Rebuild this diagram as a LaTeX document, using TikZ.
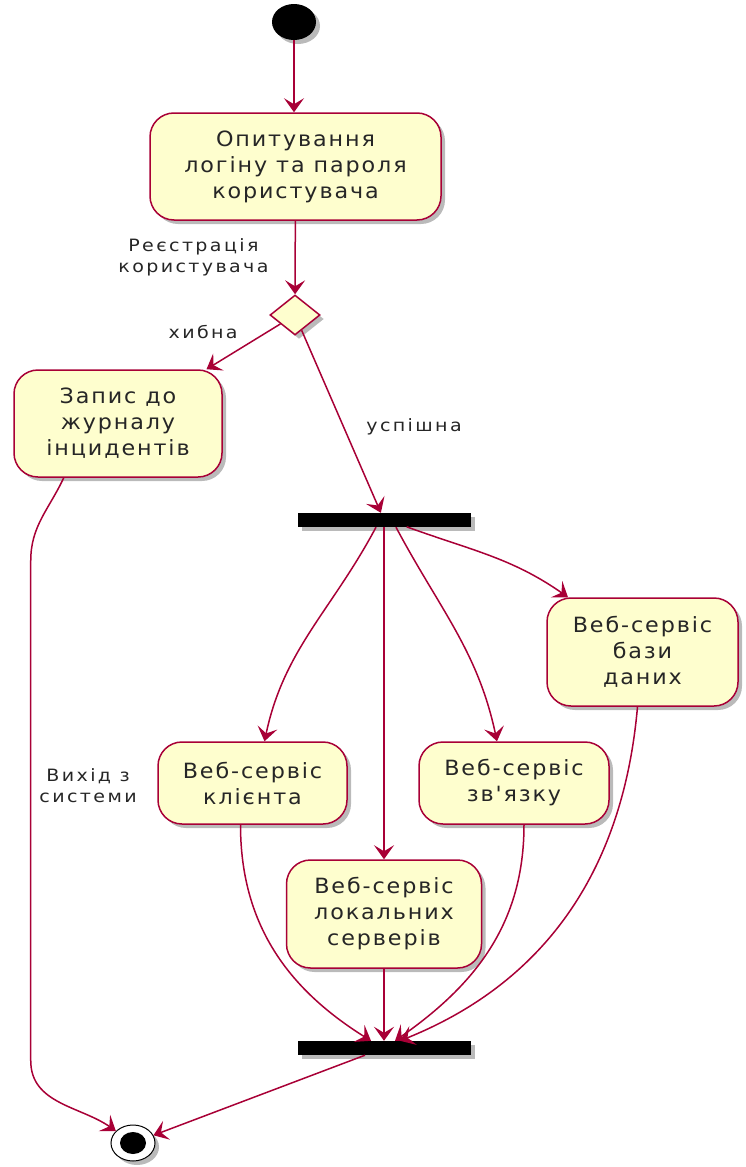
\documentclass[tikz,border=0pt]{standalone}
\usepackage{fontspec}
\setmainfont{DejaVu Sans}
\newfontfamily\actfont{DejaVu Sans}[FakeStretch=1.06, LetterSpace=9]
\newfontfamily\lblfont{DejaVu Sans}[FakeStretch=1.12, LetterSpace=14]
\usetikzlibrary{arrows.meta,shapes.geometric,shadows,positioning}
\definecolor{umlred}{HTML}{A80036}
\definecolor{umlfill}{HTML}{FEFECE}
\tikzset{
  umlshadow/.style={drop shadow={shadow xshift=4pt, shadow yshift=-4pt, opacity=0.45, fill=black!60}},
  activity/.style={draw=umlred, fill=umlfill, line width=1.5pt, rounded corners=24pt,
    align=center, inner sep=0pt, text=black!85, font=\actfont\fontsize{21}{26}\selectfont, umlshadow},
  forkbar/.style={fill=black, minimum width=173pt, minimum height=14pt, inner sep=0pt, umlshadow},
  flow/.style={draw=umlred, line width=1.5pt, -{Stealth[length=14pt,width=20pt,inset=6pt]}},
  lbl/.style={font=\lblfont\fontsize{17}{21}\selectfont, align=center, text=black!85, inner sep=2pt}
}
\begin{document}
\begin{tikzpicture}[x=1pt,y=1pt]
\useasboundingbox (0,0) rectangle (746,-1167);
% start and first activity
\node[ellipse, fill=black, minimum width=44pt, minimum height=36pt, inner sep=0pt, umlshadow] (start) at (294,-22) {};
\node[activity, minimum width=291pt, minimum height=107pt] (login) at (295.5,-166.5) {Опитування\\логіну та пароля\\користувача};
\node[diamond, draw=umlred, fill=umlfill, line width=1.5pt, minimum width=50pt, minimum height=40pt, inner sep=0pt, umlshadow] (check) at (295,-315) {};
\node[activity, minimum width=208pt, minimum height=107pt] (journal) at (118,-423.5) {Запис до\\журналу\\інцидентів};
% fork and web services
\node[forkbar] (fork) at (384,-520) {};
\node[activity, minimum width=191pt, minimum height=108pt] (db) at (642.5,-652) {Веб-сервіс\\бази\\даних};
\node[activity, minimum width=189pt, minimum height=82pt] (client) at (252.5,-783) {Веб-сервіс\\клієнта};
\node[activity, minimum width=190pt, minimum height=82pt] (link) at (514,-783) {Веб-сервіс\\зв'язку};
\node[activity, minimum width=195pt, minimum height=108pt] (local) at (384,-914) {Веб-сервіс\\локальних\\серверів};
\node[forkbar] (join) at (384,-1048) {};
% end
\node[ellipse, draw=black, fill=white, line width=1pt, minimum width=44pt, minimum height=36pt, inner sep=0pt, umlshadow] (stop) at (133,-1143) {};
\fill[black] (stop.center) ellipse (13pt and 11pt);

\draw[flow] (start) -- (start |- login.north);
\draw[flow] (login) -- node[lbl, left=24pt] {Реєстрація\\користувача} (check);
\draw[flow] (check) -- node[lbl, pos=0.45, xshift=-44pt, yshift=12pt] {хибна} (journal);
\draw[flow] (check) -- node[lbl, pos=0.53, right=20pt] {успішна} (fork);
\draw[flow] (fork.north east) ++(-64,-14) to[out=-20, in=145] ([xshift=-74.5pt]db.north);
\draw[flow] ([xshift=-8pt]fork.south) to[out=-118, in=78] ([xshift=12pt]client.north);
\draw[flow] (fork) -- (local);
\draw[flow] ([xshift=12pt]fork.south) to[out=-62, in=102] ([xshift=-17pt]link.north);
\draw[flow] ([xshift=-12pt]client.south) to[out=-90, in=148] ([xshift=-13pt]join.north);
\draw[flow] (local) -- (join);
\draw[flow] ([xshift=10pt]link.south) to[out=-90, in=35] ([xshift=11pt]join.north);
\draw[flow] ([xshift=-5pt]db.south) to[out=-95, in=22] ([xshift=16pt]join.north);
\draw[flow] (join) -- (stop);
\draw[flow] (journal.-135) to[out=-115, in=90] ++(-33,-83)
  -- node[lbl, pos=0.45, right=6pt] {Вихід з\\системи} ++(0,-500)
  to[out=-90, in=145] (stop);
\end{tikzpicture}
\end{document}
